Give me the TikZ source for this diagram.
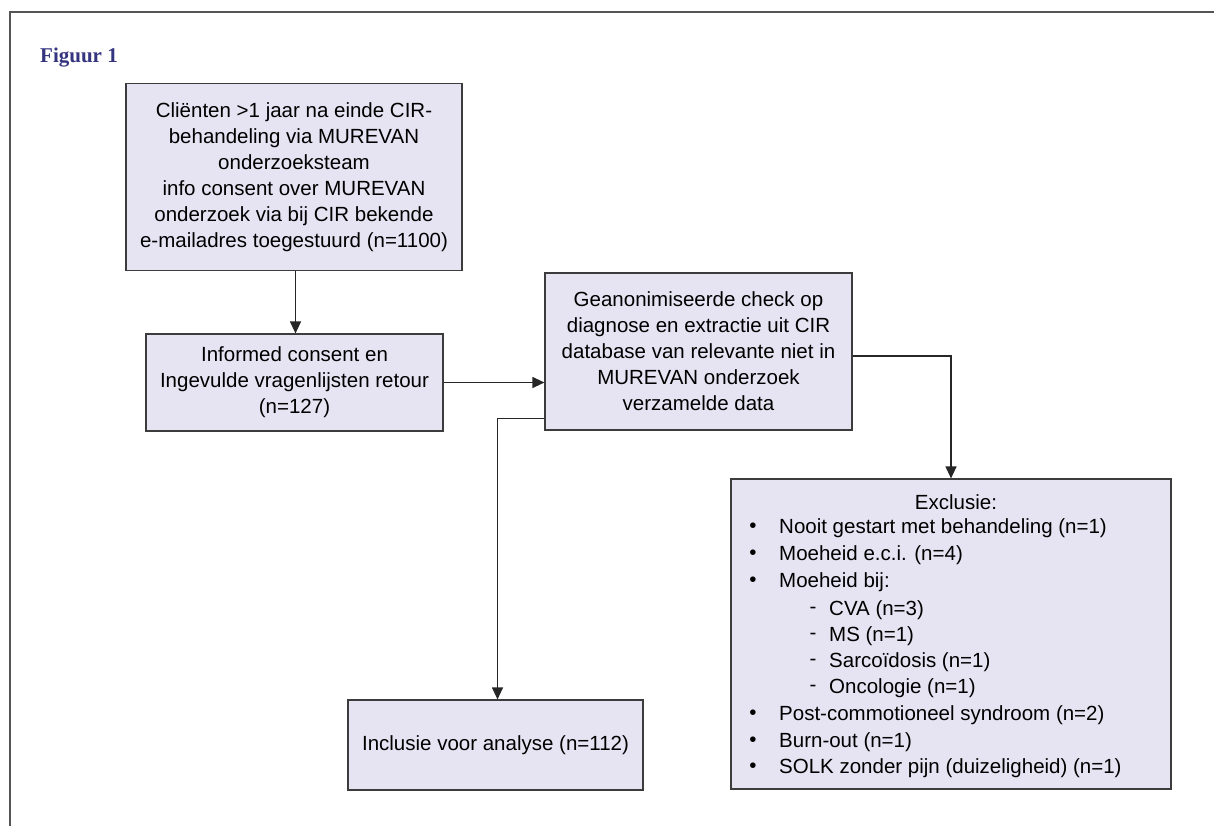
\documentclass[tikz,border=0pt]{standalone}
\usepackage{fontspec}
\setmainfont{Liberation Sans}
\newfontfamily\headfont{Liberation Serif}
\usetikzlibrary{arrows.meta}
\definecolor{boxfill}{HTML}{E6E4F2}
\definecolor{boxline}{HTML}{3C3C3C}
\definecolor{headblue}{HTML}{34347F}
\definecolor{framegray}{HTML}{555555}
\begin{document}
\begin{tikzpicture}[x=1pt,y=-1pt,
  box/.style={draw=boxline, line width=1.2pt, fill=boxfill, inner sep=0pt, align=center,
    font=\fontsize{20.5}{26}\selectfont},
  conn/.style={draw=black!85, line width=1.2pt, -{Triangle[length=12pt,width=11pt]}},
  frameline/.style={draw=framegray, line width=2pt},
  extext/.style={anchor=west, inner sep=0pt, font=\fontsize{20.5}{26}\selectfont},
  exmark/.style={anchor=center, inner sep=0pt, font=\fontsize{20.5}{26}\selectfont}]
\useasboundingbox (0,0) rectangle (1214,825);
\draw[frameline] (10,826) -- (10,12) -- (1215,12);
\node[anchor=west, inner sep=0pt, text=headblue, font=\headfont\bfseries\fontsize{21}{24}\selectfont] (title) at (40,58) {Figuur 1};

\node[box, minimum width=336pt, minimum height=187pt] (b1) at (294,177)
  {Cliënten >1 jaar na einde CIR-\\behandeling via MUREVAN\\onderzoeksteam\\ info consent over MUREVAN\\onderzoek via bij CIR bekende\\e-mailadres toegestuurd (n=1100)};
\node[box, minimum width=297pt, minimum height=97pt] (b2) at (294.5,382.5)
  {Informed consent en\\Ingevulde vragenlijsten retour\\(n=127)};
\node[box, minimum width=307pt, minimum height=157pt] (b3) at (698.5,351.5)
  {Geanonimiseerde check op\\diagnose en extractie uit CIR\\database van relevante niet in\\MUREVAN onderzoek\\verzamelde data};
\node[box, minimum width=295pt, minimum height=90pt] (inc) at (495.5,745)
  {Inclusie voor analyse (n=112)};
\node[box, minimum width=440pt, minimum height=310pt] (ex) at (951,634) {};

\node[exmark] (exh) at (956,502) {Exclusie:};
\foreach \y/\t [count=\i] in {528/Nooit gestart met behandeling (n=1), 555/Moeheid e.c.i. (n=4), 582/Moeheid bij:, 715/Post-commotioneel syndroom (n=2), 742/Burn-out (n=1), 768/SOLK zonder pijn (duizeligheid) (n=1)} {
  \node[exmark] (bul\i) at (753,\y) {\textbullet};
  \node[extext] (item\i) at (779,\y) {\t};
}
\foreach \y/\t [count=\i] in {610/CVA (n=3), 636/MS (n=1), 662/Sarcoïdosis (n=1), 688/Oncologie (n=1)} {
  \node[exmark] (dash\i) at (813,\y) {-};
  \node[extext] (sub\i) at (829,\y) {\t};
}

\coordinate (b1s) at ([xshift=1.5pt]b1.south);
\draw[conn] (b1s) -- (b1s |- b2.north);
\draw[conn] (b2.east) -- (b3.west |- b2.east);
\draw[conn] ([yshift=-4.5pt]b3.east) -| (ex.north);
\coordinate (b3l) at ([yshift=12pt]b3.south west);
\draw[conn] (b3l) -| ([xshift=2pt]inc.north);
\end{tikzpicture}
\end{document}
